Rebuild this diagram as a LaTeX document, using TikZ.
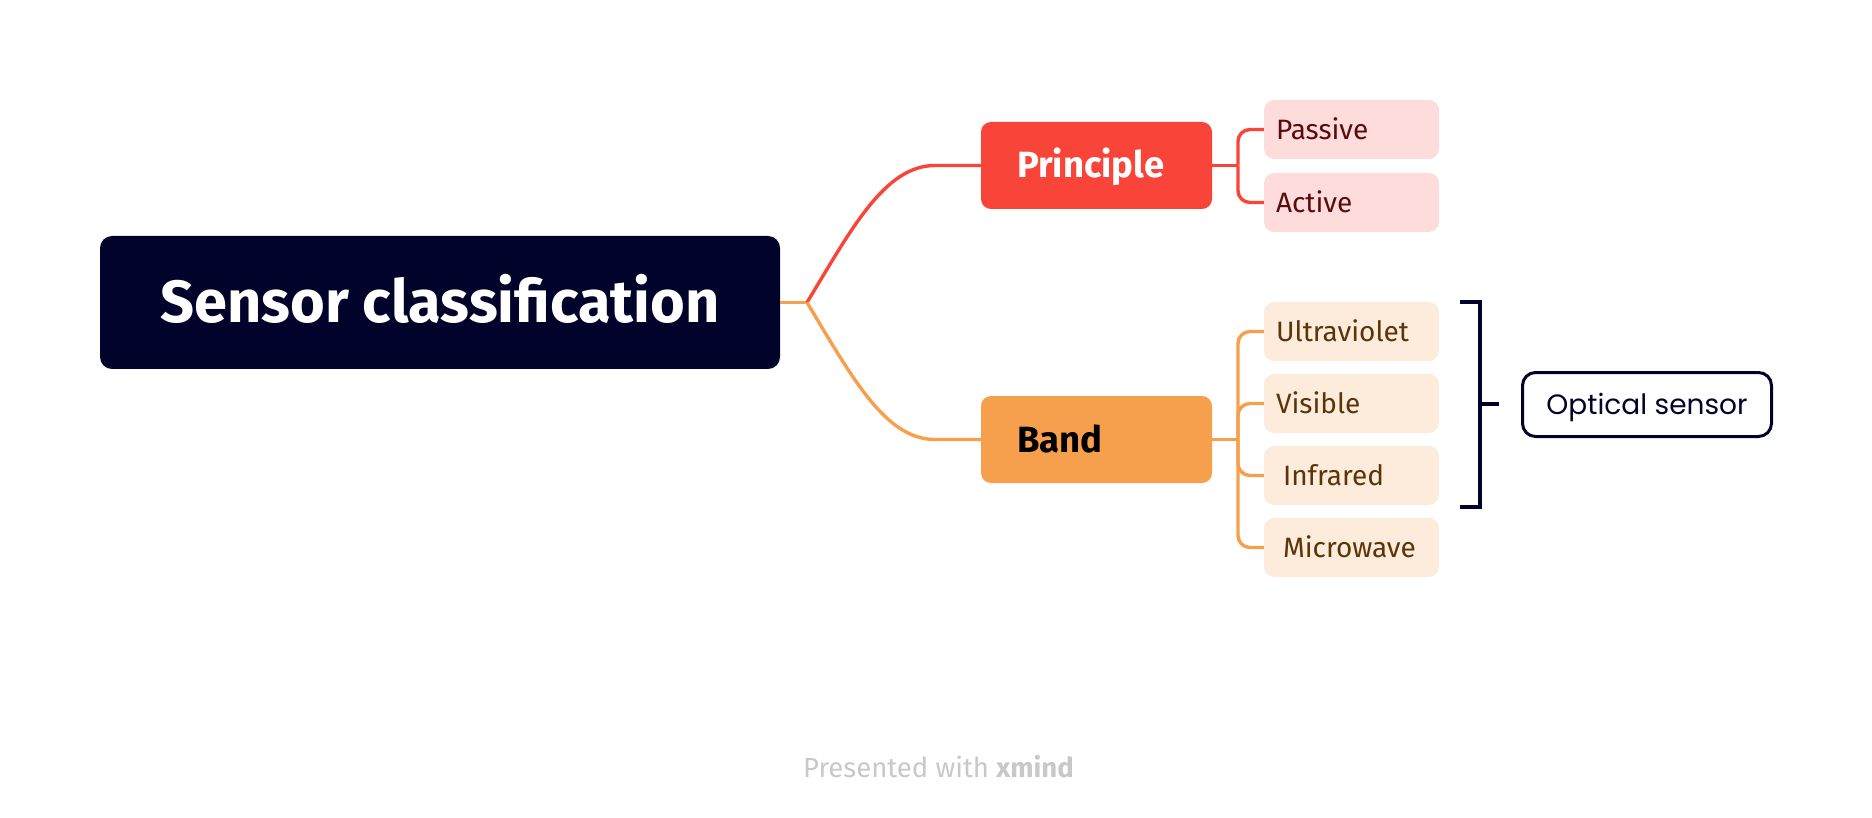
\documentclass[tikz,border=0pt]{standalone}
\usepackage{fontspec}
\setmainfont{Fira Sans}
\newfontfamily\popfont{Poppins}
\definecolor{navy}{HTML}{01032A}
\definecolor{pred}{HTML}{F9443A}
\definecolor{bor}{HTML}{F6A04D}
\definecolor{pinkfill}{HTML}{FDDCDB}
\definecolor{pinktext}{HTML}{5A0B0B}
\definecolor{peachfill}{HTML}{FDEBDB}
\definecolor{peachtext}{HTML}{5B3408}
\definecolor{foot}{HTML}{C8C8C8}
\begin{document}
\begin{tikzpicture}[x=1pt,y=-1pt,
  rootbox/.style={fill=navy, text=white, rounded corners=12pt, minimum width=680pt, minimum height=133pt,
    font=\fontsize{59.5}{70}\selectfont\bfseries, text height=41pt, text depth=0pt, inner sep=0pt},
  mainbox/.style={rounded corners=10pt, minimum height=87pt, text width=159pt, inner xsep=36pt, inner ysep=0pt,
    align=left, font=\fontsize{36.5}{44}\selectfont\bfseries, text height=25pt, text depth=0pt},
  leafbox/.style={rounded corners=10pt, minimum height=59pt, text width=151pt, inner xsep=12pt, inner ysep=0pt,
    align=left, font=\fontsize{28}{34}\selectfont, text height=19.3pt, text depth=0pt},
  pinkleaf/.style={leafbox, fill=pinkfill, text=pinktext},
  peachleaf/.style={leafbox, fill=peachfill, text=peachtext},
  redline/.style={draw=pred, line width=3.4pt},
  orline/.style={draw=bor, line width=3.4pt},
  brk/.style={draw=navy, line width=3.6pt}]
\useasboundingbox (0,0) rectangle (1872,818);

\node[rootbox] (root) at (440,302.5) {Sensor classification};
\node[mainbox, fill=pred, text=white] (prin) at (1096.5,165.5) {Principle};
\node[mainbox, fill=bor, text=black] (band) at (1096.5,439.5) {Band};

\node[pinkleaf] (pas) at (1351.5,129.5) {Passive};
\node[pinkleaf] (act) at (1351.5,202.5) {Active};
\node[peachleaf] (uv) at (1351.5,331.5) {Ultraviolet};
\node[peachleaf] (vis) at (1351.5,403.5) {Visible};
\node[peachleaf] (ir) at (1351.5,475.5) {\hspace*{7pt}Infrared};
\node[peachleaf] (mw) at (1351.5,547.5) {\hspace*{7pt}Microwave};

\coordinate (j) at (807,302.5);
\coordinate (pj) at (1238,165.5);
\coordinate (bj) at (1238,439.5);

\draw[orline] (root.east) -- (j);
\draw[redline] (j) .. controls (852,228) and (885,165.5) .. (935,165.5) -- (prin.west);
\draw[orline] (j) .. controls (852,377) and (885,439.5) .. (935,439.5) -- (band.west);

\draw[redline] (prin.east) -- (pj);
\draw[redline, rounded corners=12pt] (pj) |- (pas.west);
\draw[redline, rounded corners=12pt] (pj) |- (act.west);

\draw[orline] (band.east) -- (bj);
\draw[orline, rounded corners=12pt] (bj) |- (uv.west);
\draw[orline, rounded corners=12pt] (bj) |- (vis.west);
\draw[orline, rounded corners=12pt] (bj) |- (ir.west);
\draw[orline, rounded corners=12pt] (bj) |- (mw.west);

\coordinate (bt) at (1460,302);
\coordinate (bb) at (1460,507);
\coordinate (bm) at (1480,404);
\coordinate (bx) at (1499,404);
\draw[brk] (bt) -- (1480,302) -- (1480,507) -- (bb);
\draw[brk] (bm) -- (bx);

\node[draw=navy, line width=3pt, fill=white, rounded corners=13pt, minimum width=249pt, minimum height=64pt,
  font=\popfont\fontsize{28}{34}\selectfont, text=navy, text height=20pt, text depth=0pt, inner sep=0pt]
  (opt) at (1647,404.5) {Optical sensor};

\node[text=foot, font=\fontsize{27.5}{33}\selectfont, text height=19pt, text depth=0pt, inner sep=0pt]
  (foot) at (938.5,768) {Presented with \textbf{xmind}};
\end{tikzpicture}
\end{document}
